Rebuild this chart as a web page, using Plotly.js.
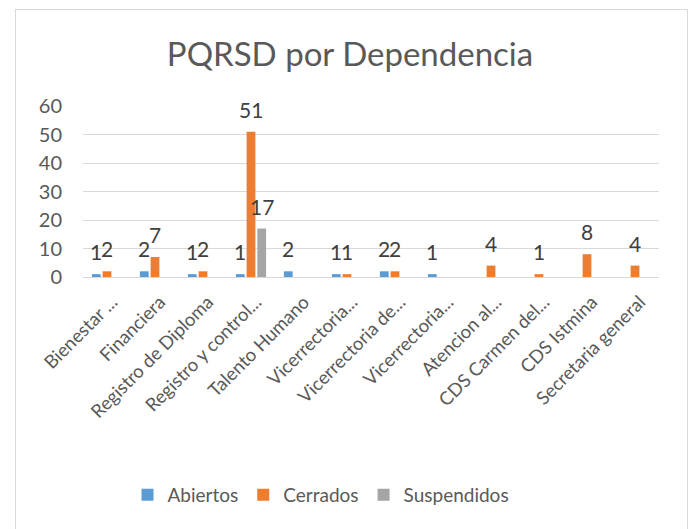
<!DOCTYPE html>
<html>
<head>
<meta charset="utf-8">
<script src="https://cdn.plot.ly/plotly-3.0.1.min.js"></script>
<style>
  html, body { margin: 0; padding: 0; background: #fff; }
  #wrap { position: relative; width: 691px; height: 529px; overflow: hidden; }
  #chart { position: absolute; left: 0; top: 0; width: 691px; height: 529px; }
  #frame { position: absolute; left: 15px; top: 9px; width: 671px; height: 540px; border: 1px solid #d9d9d9; pointer-events: none; }
</style>
</head>
<body>
<div id="wrap">
  <div id="chart"></div>
  <div id="frame"></div>
</div>
<script>
const categories = [
  "Bienestar ...", "Financiera", "Registro de Diploma", "Registro y control...",
  "Talento Humano", "Vicerrectoria...", "Vicerrectoria de...", "Vicerrectoria...",
  "Atencion al...", "CDS Carmen del...", "CDS Istmina", "Secretaria general"
];
const seriesNames = ["Abiertos", "Cerrados", "Suspendidos"];
const abiertos    = [1, 2, 1, 1, 2, 1, 2, 1, null, null, null, null];
const cerrados    = [2, 7, 2, 51, null, 1, 2, null, 4, 1, 8, 4];
const suspendidos = [null, null, null, 17, null, null, null, null, null, null, null, null];
const yTicks = [0, 10, 20, 30, 40, 50, 60];

const FONT = "Lato, 'Open Sans', sans-serif";
const COLORS = ["#5B9BD5", "#ED7D31", "#A5A5A5"];
const BARGAP = 0.33;
const xIdx = categories.map((_, i) => i);
const allSeries = [abiertos, cerrados, suspendidos];

const data = allSeries.map((vals, s) => ({
  type: "bar",
  name: seriesNames[s],
  x: xIdx,
  y: vals,
  marker: { color: COLORS[s] },
  hoverinfo: "skip"
}));

// data labels above each bar (positioned via the axis scales)
const slot = (1 - BARGAP) / allSeries.length;
const annotations = [];
allSeries.forEach((vals, s) => {
  const off = (s - (allSeries.length - 1) / 2) * slot;
  vals.forEach((v, i) => {
    if (v == null) return;
    annotations.push({
      x: i + off, y: v, xref: "x", yref: "y",
      text: String(v), showarrow: false,
      xanchor: "center", yanchor: "bottom", yshift: 8,
      font: { family: FONT, size: 21, color: "#404040" }
    });
  });
});

const layout = {
  width: 691,
  height: 529,
  paper_bgcolor: "#ffffff",
  plot_bgcolor: "#ffffff",
  margin: { l: 83, r: 32, t: 106, b: 252 },
  font: { family: FONT, color: "#595959" },
  title: {
    text: "PQRSD por Dependencia",
    font: { family: FONT, size: 33, color: "#595959" },
    x: 350 / 691, xref: "container", xanchor: "center",
    y: 1 - 54 / 529, yref: "container", yanchor: "middle"
  },
  barmode: "group",
  bargap: BARGAP,
  bargroupgap: 0.18,
  showlegend: true,
  legend: {
    orientation: "h",
    x: 321 / 691, xref: "container", xanchor: "center",
    y: (529 - 495) / 529, yref: "container", yanchor: "middle",
    font: { family: FONT, size: 19, color: "#595959" },
    itemwidth: 30,
    traceorder: "normal"
  },
  annotations: annotations,
  xaxis: {
    range: [-0.5, categories.length - 0.5],
    tickmode: "array",
    tickvals: xIdx,
    ticktext: categories,
    tickangle: -45,
    tickfont: { family: FONT, size: 18.5, color: "#595959" },
    ticklabelstandoff: 6,
    ticklabelshift: 5,
    showgrid: false,
    zeroline: false,
    showline: true,
    linecolor: "#d9d9d9",
    linewidth: 1,
    ticks: "",
    fixedrange: true
  },
  yaxis: {
    range: [0, 60],
    tickmode: "array",
    tickvals: yTicks,
    ticktext: yTicks.map(String),
    tickfont: { family: FONT, size: 20, color: "#595959" },
    showgrid: true,
    gridcolor: "#d9d9d9",
    gridwidth: 1,
    zeroline: false,
    showline: false,
    ticks: "",
    ticklabelstandoff: 20,
    fixedrange: true
  }
};

Plotly.newPlot("chart", data, layout, { displayModeBar: false, staticPlot: true });
</script>
</body>
</html>
